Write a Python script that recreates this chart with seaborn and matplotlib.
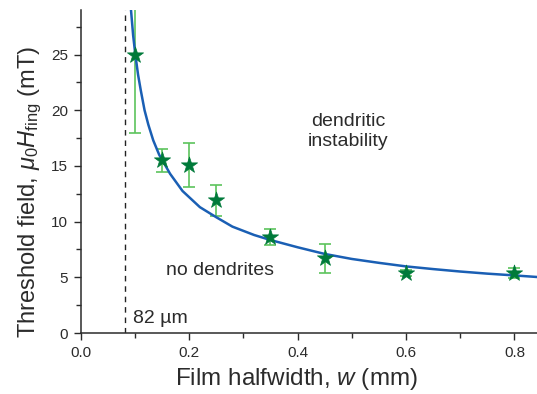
import matplotlib
matplotlib.use("Agg")
import matplotlib.pyplot as plt
import seaborn as sns
import pandas as pd
from matplotlib.ticker import MultipleLocator

# measured data (stars with error bars)
width_mm = [0.10, 0.15, 0.20, 0.25, 0.35, 0.45, 0.60, 0.80]
field_mT = [25.0, 15.5, 15.1, 11.9, 8.6, 6.7, 5.4, 5.4]
field_err = [7.0, 1.0, 2.0, 1.4, 0.73, 1.3, 0.3, 0.45]

# fitted curve
curve_w = [0.091, 0.093, 0.097, 0.101, 0.106, 0.111, 0.118, 0.125, 0.134, 0.145,
           0.151, 0.165, 0.188, 0.22, 0.25, 0.28, 0.32, 0.35, 0.40, 0.45,
           0.50, 0.55, 0.60, 0.65, 0.70, 0.75, 0.80, 0.85]
curve_H = [31.0, 29.0, 26.7, 25.0, 23.2, 21.8, 20.0, 18.7, 17.3, 16.0,
           15.5, 14.3, 12.75, 11.3, 10.4, 9.55, 8.8, 8.35, 7.7, 7.1,
           6.65, 6.3, 5.98, 5.74, 5.52, 5.33, 5.17, 5.0]

w_crit = 0.082  # 82 µm

sns.set_theme(style="ticks")
plt.rcParams['font.family'] = ['Liberation Sans', 'DejaVu Sans']
plt.rcParams['mathtext.fontset'] = 'custom'
plt.rcParams['mathtext.rm'] = 'Liberation Sans'
plt.rcParams['mathtext.it'] = 'Liberation Sans:italic'
plt.rcParams['mathtext.bf'] = 'Liberation Sans:bold'

dark = '#2b2b2b'
fig = plt.figure(figsize=(5.37, 3.94), dpi=100)
ax = fig.add_axes([0.150, 0.1548, 0.850, 0.8198])

df_pts = pd.DataFrame({'w': width_mm, 'H': field_mT, 'err': field_err})
df_fit = pd.DataFrame({'w': curve_w, 'H': curve_H})

ax.axvline(w_crit, color='#222222', lw=1.0, ls=(0, (4, 3.5)), zorder=1)

ax.errorbar(df_pts['w'], df_pts['H'], yerr=df_pts['err'], fmt='none',
            ecolor='#5cc45c', elinewidth=1.2, capsize=4.5, capthick=1.2, zorder=2)
sns.lineplot(data=df_fit, x='w', y='H', ax=ax, color='#1a5fb4', lw=1.8,
             sort=False, estimator=None, zorder=3)
sns.scatterplot(data=df_pts, x='w', y='H', ax=ax, marker='*', s=150,
                color='#007a3a', edgecolor='#007a3a', linewidth=0.5, zorder=4)

ax.set_xlim(0, 0.8415)
ax.set_ylim(0, 29)
ax.xaxis.set_major_locator(MultipleLocator(0.2))
ax.xaxis.set_minor_locator(MultipleLocator(0.1))
ax.yaxis.set_major_locator(MultipleLocator(5))
ax.yaxis.set_minor_locator(MultipleLocator(2.5))
ax.xaxis.set_major_formatter(matplotlib.ticker.FormatStrFormatter('%.1f'))

for s in ['top', 'right']:
    ax.spines[s].set_visible(False)
for s in ['left', 'bottom']:
    ax.spines[s].set_color(dark)
    ax.spines[s].set_linewidth(1.1)

ax.tick_params(which='major', direction='out', length=5, width=1.0, color=dark,
               labelsize=11, labelcolor=dark, pad=4)
ax.tick_params(which='minor', direction='out', length=3.5, width=1.0, color=dark)

ax.set_xlabel(r'Film halfwidth, $\mathit{w}$ (mm)', fontsize=17.5, color=dark)
ax.set_ylabel(r'Threshold field, $\mu_0\mathit{H}_\mathrm{fing}$ (mT)', fontsize=17,
              color=dark)
ax.xaxis.set_label_coords(0.474, -0.102)
ax.yaxis.set_label_coords(-0.080, 0.437)

ax.text(0.097, 0.87, '82 µm', fontsize=14, color=dark, ha='left', va='baseline')
ax.text(0.1576, 5.2, 'no dendrites', fontsize=14, color=dark, ha='left', va='baseline')
ax.text(0.494, 18.6, 'dendritic', fontsize=14, color=dark, ha='center', va='baseline')
ax.text(0.494, 16.75, 'instability', fontsize=14, color=dark, ha='center', va='baseline')

fig.savefig('out.png', dpi=100)
